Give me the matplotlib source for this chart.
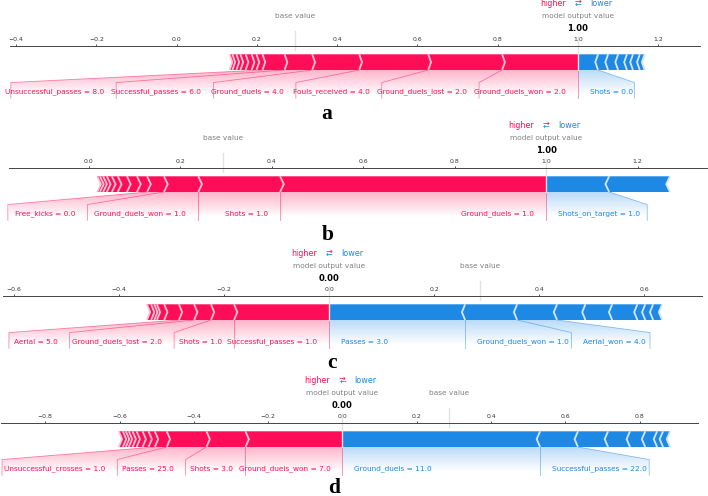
import numpy as np
import matplotlib
matplotlib.use("Agg")
import matplotlib.pyplot as plt
from matplotlib.path import Path
from matplotlib.patches import PathPatch, Polygon
from matplotlib.colors import LinearSegmentedColormap
from matplotlib.ticker import MaxNLocator

# ---- data: shap contributions ----
# panel a
a_base, a_out = 0.294, 1.00
a_pos_names = ["Ground_duels_won = 2.0", "Ground_duels_lost = 2.0", "Fouls_received = 4.0",
               "Ground_duels = 4.0", "Successful_passes = 6.0", "Unsuccessful_passes = 8.0"]
a_pos_shap = [0.189, 0.184, 0.172, 0.117, 0.069, 0.055]
a_pos_minor = [0.015, 0.012, 0.015, 0.013, 0.010, 0.010, 0.007]
a_neg_names = ["Shots = 0.0"]
a_neg_shap = [0.050]
a_neg_minor = [0.025, 0.025, 0.022, 0.015, 0.017, 0.012]

# panel b
b_base, b_out = 0.293, 1.00
b_pos_names = ["Ground_duels = 1.0", "Shots = 1.0", "Ground_duels_won = 1.0", "Free_kicks = 0.0"]
b_pos_shap = [0.582, 0.179, 0.075, 0.037]
b_pos_minor = [0.022, 0.022, 0.020, 0.013, 0.011, 0.008, 0.007, 0.006]
b_neg_names = ["Shots_on_target = 1.0"]
b_neg_shap = [0.138]
b_neg_minor = [0.133]

# panel c
c_base, c_out = 0.288, 0.00
c_pos_names = ["Successful_passes = 1.0", "Shots = 1.0", "Ground_duels_lost = 2.0", "Aerial = 5.0"]
c_pos_shap = [0.181, 0.044, 0.032, 0.029]
c_pos_minor = [0.028, 0.014, 0.005, 0.006, 0.008]
c_neg_names = ["Passes = 3.0", "Ground_duels_won = 1.0", "Aerial_won = 4.0"]
c_neg_shap = [0.259, 0.099, 0.076]
c_neg_minor = [0.054, 0.051, 0.048, 0.015, 0.015, 0.017]

# panel d
d_base, d_out = 0.288, 0.00
d_pos_names = ["Ground_duels_won = 7.0", "Shots = 3.0", "Passes = 25.0", "Unsuccessful_crosses = 1.0"]
d_pos_shap = [0.261, 0.105, 0.107, 0.032]
d_pos_minor = [0.017, 0.016, 0.016, 0.011, 0.010, 0.008, 0.008, 0.011]
d_neg_names = ["Ground_duels = 11.0", "Successful_passes = 22.0"]
d_neg_shap = [0.532, 0.102]
d_neg_minor = [0.081, 0.059, 0.041, 0.032, 0.016, 0.019]

letters = ["a", "b", "c", "d"]

# ---- layout / style ----
RED, RED_LIGHT = "#FF0D57", "#FFC3D5"
BLUE, BLUE_LIGHT = "#1E88E5", "#D1E6FA"
K = 0.44        # size of the original shap figure in this picture
OFF_PX = 12     # gap between label and its anchor, pixels
PAD_PX = 2.4
GAP_PX = 7      # label edge -> connector line
TOL_PX = 8
W, H, YPX = 708, 496, 157

# xlim, axis left/right px, bar bottom px, label squeeze, letter x / baseline px
layout = [
    dict(xlim=(-0.415, 1.304), px=(10, 700), bar=70, sq=0.87, letter=(327, 119)),
    dict(xlim=(-0.175, 1.352), px=(9, 707), bar=192, sq=1.0, letter=(328, 240)),
    dict(xlim=(-0.621, 0.710), px=(3, 702), bar=320, sq=0.95, letter=(332, 368)),
    dict(xlim=(-0.919, 0.957), px=(1, 698), bar=447, sq=0.95, letter=(334, 493)),
]

panels = [
    (a_base, a_out, a_pos_names, a_pos_shap + a_pos_minor, a_neg_names, a_neg_shap + a_neg_minor),
    (b_base, b_out, b_pos_names, b_pos_shap + b_pos_minor, b_neg_names, b_neg_shap + b_neg_minor),
    (c_base, c_out, c_pos_names, c_pos_shap + c_pos_minor, c_neg_names, c_neg_shap + c_neg_minor),
    (d_base, d_out, d_pos_names, d_pos_shap + d_pos_minor, d_neg_names, d_neg_shap + d_neg_minor),
]

fig = plt.figure(figsize=(W / 100, H / 100), dpi=100)
renderer = fig.canvas.get_renderer()


def draw_bars(ax, out, vals, kind, wsep, wbar=0.1):
    pre = out
    rects, seps = [], []
    for i, v in enumerate(vals):
        if kind == "pos":
            left, right = pre - v, pre
            pre = left
            ind, sep, cols = abs(wsep), left, (RED, RED_LIGHT)
        else:
            left, right = pre, pre + v
            pre = right
            ind, sep, cols = -abs(wsep), right, (BLUE, BLUE_LIGHT)
        if i == 0:
            if kind == "pos":
                pts = [[left, 0], [right, 0], [right, wbar], [left, wbar], [left + ind, wbar / 2]]
            else:
                pts = [[right, 0], [left, 0], [left, wbar], [right, wbar], [right + ind, wbar / 2]]
        else:
            pts = [[left, 0], [right, 0], [right + ind * 0.9, wbar / 2], [right, wbar],
                   [left, wbar], [left + ind * 0.9, wbar / 2]]
        rects.append(Polygon(pts, closed=True, facecolor=cols[0], lw=0))
        seps.append(Polygon([[sep, 0], [sep + ind, wbar / 2], [sep, wbar]], closed=False,
                            fill=False, edgecolor=cols[1], lw=3 * K))
    for p in rects + seps:
        ax.add_patch(p)


def draw_labels(ax, out, vals, names, kind, sq):
    col = RED if kind == "pos" else BLUE
    sign = 1 if kind == "pos" else -1
    ha = "right" if kind == "pos" else "left"
    to_px = lambda x: ax.transData.transform([(x, 0)])[0, 0]
    to_x = lambda p: ax.transData.inverted().transform([(p, 0)])[0, 0]
    line_kw = dict(lw=0.6, alpha=0.5, color=col, clip_on=False)

    bounds = out - sign * np.cumsum(vals)
    start, pre, box_end = out, out, out
    if kind == "pos":
        ax.plot([out, out], [0, -0.18], **line_kw)
    for val, name in zip(bounds, names):
        anchor_px = to_px(start) - sign * OFF_PX
        t = ax.text(to_x(anchor_px), -0.15, name, fontsize=12 * K, color=col, ha=ha, va="baseline")
        w = sq * t.get_window_extent(renderer).width
        edge_px = anchor_px - sign * (w + PAD_PX)
        if sign * edge_px > sign * to_px(val) - TOL_PX:
            ax.plot([val, val], [0, -0.18], **line_kw)
            start = box_end = val
        else:
            box_end = to_x(anchor_px - sign * (w + GAP_PX))
            ax.plot([val, box_end, box_end], [0, -0.08, -0.18], **line_kw)
            start = box_end
        pre = val

    path = Path([[out, 0], [pre, 0], [box_end, -0.08], [box_end, -0.2], [out, -0.2], [out, 0]])
    patch = PathPatch(path, facecolor="none", edgecolor="none")
    ax.add_patch(patch)
    cm = LinearSegmentedColormap.from_list("cm", [col, "white"])
    _, Z2 = np.meshgrid(np.linspace(0, 10), np.linspace(-10, 10))
    im = ax.imshow(Z2, interpolation="quadric", cmap=cm, vmax=0.01, alpha=0.3, origin="lower",
                   extent=[out, box_end, 0, -0.31], aspect="auto")
    im.set_clip_path(patch)


for (base, out, pnames, pvals, nnames, nvals), lay, letter in zip(panels, layout, letters):
    left, right = lay["px"]
    top = lay["bar"] - 0.15 * YPX
    bot = lay["bar"] + 0.5 * YPX
    ax = fig.add_axes([left / W, 1 - bot / H, (right - left) / W, (bot - top) / H])
    ax.set_facecolor("none")
    ax.set_xlim(*lay["xlim"])
    ax.set_ylim(-0.5, 0.15)

    # separator width as shap computes it from its first x range
    tot_pos, tot_neg = sum(pvals), sum(nvals)
    padding = max(tot_pos, tot_neg) * 0.2
    min_x = min(out - tot_pos, base) - padding
    max_x = max(out + tot_neg, base) + padding
    wsep = (max_x - min_x) / 200

    draw_bars(ax, out, nvals, "neg", wsep)
    draw_bars(ax, out, pvals, "pos", wsep)
    draw_labels(ax, out, nvals, nnames, "neg", lay["sq"])
    draw_labels(ax, out, pvals, pnames, "pos", lay["sq"])

    out_px = ax.transData.transform([(out, 0)])[0, 0]
    off = ax.transData.inverted().transform([(out_px + OFF_PX, 0)])[0, 0] - out
    ax.text(out - off, 0.405, "higher", fontsize=13 * K, color=RED, ha="right")
    ax.text(out + off, 0.405, "lower", fontsize=13 * K, color=BLUE, ha="left")
    ax.text(out, 0.4, r"$\leftarrow$", fontsize=13 * K, color=BLUE, ha="center")
    ax.text(out, 0.425, r"$\rightarrow$", fontsize=13 * K, color=RED, ha="center")

    box = dict(facecolor="white", edgecolor="white", pad=4 * K)
    ax.plot([base, base], [0.13, 0.25], lw=1.0, color="#E2E2E2", clip_on=False)
    ax.text(base, 0.33, "base value", fontsize=12 * K, alpha=0.5, ha="center", bbox=box)
    ax.plot([out, out], [0, 0.24], lw=1.0, color="#E2E2E2", clip_on=False)
    ax.text(out, 0.25, "{0:.2f}".format(out), fontsize=14 * K, fontweight="bold", ha="center", bbox=box)
    ax.text(out, 0.33, "model output value", fontsize=12 * K, alpha=0.5, ha="center", bbox=box)

    ax.set_xlim(*lay["xlim"])
    ax.set_ylim(-0.5, 0.15)
    ax.xaxis.set_major_locator(MaxNLocator(nbins=12, steps=[1, 2, 2.5, 5, 10]))
    ax.tick_params(axis="x", top=True, bottom=False, labeltop=True, labelbottom=False,
                   labelsize=10 * K, length=3.5 * K, width=0.6, pad=3.5 * K,
                   colors="#333333")
    ax.set_yticks([])
    for key, sp in ax.spines.items():
        sp.set_visible(key == "top")
    ax.spines["top"].set_linewidth(0.7)
    ax.spines["top"].set_color("#444444")

    lx, ly = lay["letter"]
    fig.text(lx / W, 1 - ly / H, letter, ha="center", va="baseline",
             family="Liberation Serif", fontweight="bold", fontsize=15.5)

fig.savefig("out.png", dpi=100)
